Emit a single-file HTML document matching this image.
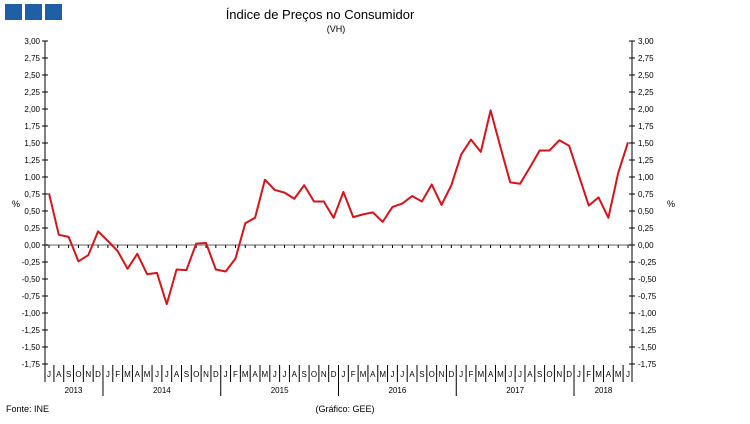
<!DOCTYPE html>
<html><head><meta charset="utf-8"><style>
body{margin:0;background:#fff;font-family:"Liberation Sans",Arial,sans-serif}
svg text{font-family:"Liberation Sans",Arial,sans-serif;fill:#000}
</style></head><body>
<svg id="c" width="750" height="419" xmlns="http://www.w3.org/2000/svg">
<rect x="5" y="4" width="17" height="16" fill="#1f5fa6"/>
<rect x="25" y="4" width="17" height="16" fill="#1f5fa6"/>
<rect x="45" y="4" width="17" height="16" fill="#1f5fa6"/>
<text x="320" y="19" font-size="13" text-anchor="middle">Índice de Preços no Consumidor</text>
<text x="336" y="32" font-size="9" text-anchor="middle">(VH)</text>
<text x="12" y="207" font-size="9">%</text>
<text x="667" y="207" font-size="9">%</text>
<text x="6" y="412" font-size="9">Fonte: INE</text>
<text x="345" y="412" font-size="9" text-anchor="middle">(Gráfico: GEE)</text>
<g id="g"></g>
</svg>
<script>
const months=["J","A","S","O","N","D","J","F","M","A","M","J","J","A","S","O","N","D","J","F","M","A","M","J","J","A","S","O","N","D","J","F","M","A","M","J","J","A","S","O","N","D","J","F","M","A","M","J","J","A","S","O","N","D","J","F","M","A","M","J"];
const years=["2013","2014","2015","2016","2017","2018"];
const yearStart=[0,6,18,30,42,54];
const values=[0.76,0.15,0.12,-0.24,-0.15,0.20,0.06,-0.09,-0.35,-0.13,-0.43,-0.41,-0.87,-0.36,-0.37,0.02,0.03,-0.36,-0.39,-0.20,0.32,0.40,0.96,0.81,0.77,0.68,0.88,0.64,0.64,0.40,
0.78,0.41,0.45,0.48,0.34,0.56,0.61,0.72,0.64,0.89,0.59,0.88,1.33,1.55,1.37,1.98,1.44,0.92,0.90,1.14,1.39,1.39,1.54,1.46,1.02,0.58,0.70,0.40,1.06,1.51];
const ticks=["3,00","2,75","2,50","2,25","2,00","1,75","1,50","1,25","1,00","0,75","0,50","0,25","0,00","-0,25","-0,50","-0,75","-1,00","-1,25","-1,50","-1,75"];
const tickVals=[3,2.75,2.5,2.25,2,1.75,1.5,1.25,1,0.75,0.5,0.25,0,-0.25,-0.5,-0.75,-1,-1.25,-1.5,-1.75];
const NS="http://www.w3.org/2000/svg",g=document.getElementById("g");
const L=45,R=632,X0=49,DX=(628-49)/59;
const x=i=>X0+DX*i, y=v=>245-v*68;
function mk(t,a){const e=document.createElementNS(NS,t);for(const k in a)e.setAttribute(k,a[k]);g.appendChild(e);return e;}
let e;
e=mk("line",{x1:L,y1:41,x2:L,y2:382,stroke:"#000"});


e=mk("line",{x1:R,y1:41,x2:R,y2:382,stroke:"#000"});


e=mk("line",{x1:L,y1:y(0),x2:R,y2:y(0),stroke:"#999","stroke-width":1.5});


tickVals.forEach((v,i)=>{
 mk("line",{x1:L-3,y1:y(v),x2:L+3,y2:y(v),stroke:"#000"});
 mk("line",{x1:R-3,y1:y(v),x2:R+3,y2:y(v),stroke:"#000"});
 e=mk("text",{x:L-5,y:y(v)+3,"font-size":8,"text-anchor":"end"});e.textContent=ticks[i];
 
 
 e=mk("text",{x:R+6,y:y(v)+3,"font-size":8});e.textContent=ticks[i];
 
 
});
months.forEach((m,i)=>{
 mk("line",{x1:x(i),y1:y(0),x2:x(i),y2:y(0)+3,stroke:"#000"});
 if(i>0)mk("line",{x1:x(i)-DX/2,y1:365,x2:x(i)-DX/2,y2:yearStart.includes(i)?396:382,stroke:"#000"});
 e=mk("text",{x:x(i),y:377,"font-size":8,"text-anchor":"middle"});e.textContent=m;
 
 
});
years.forEach((yr,k)=>{
 const s=yearStart[k],en=k<years.length-1?yearStart[k+1]-1:months.length-1;
 e=mk("text",{x:(x(s)+x(en))/2,y:393,"font-size":8,"text-anchor":"middle"});e.textContent=yr;
 
 
});
e=mk("polyline",{points:values.map((v,i)=>x(i)+","+y(v)).join(" "),fill:"none",stroke:"#d7141a","stroke-width":2,"stroke-linejoin":"round"});


</script>
</body></html>
